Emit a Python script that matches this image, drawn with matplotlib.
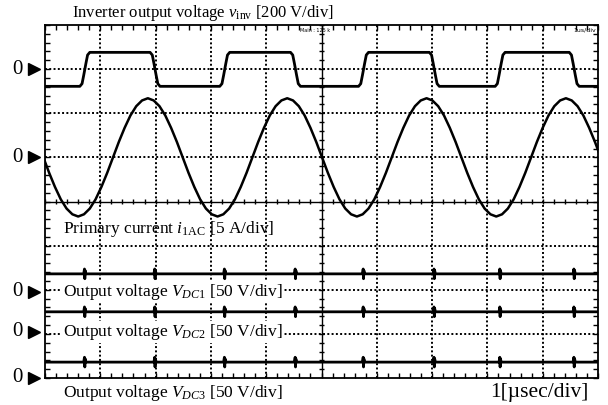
import numpy as np
import matplotlib
matplotlib.use("Agg")
import matplotlib.pyplot as plt
from matplotlib.ticker import MultipleLocator

plt.rcParams['font.family'] = ['Liberation Serif', 'DejaVu Serif']
plt.rcParams['mathtext.fontset'] = 'custom'
plt.rcParams['mathtext.rm'] = 'Liberation Serif'
plt.rcParams['mathtext.it'] = 'Liberation Serif:italic'

# screen is 10 x 8 divisions; all values below in divisions
# inverter voltage: switching instants and levels (zero at 7 div)
edge_t = [0.72, 1.99, 3.25, 4.53, 5.76, 7.04, 8.23, 9.57]
v_hi, v_lo = 0.38, -0.39
v_zero = 7.0

# primary current sampled every 0.105 div starting at t = -0.03 (zero at 5 div)
i_t0, i_dt = -0.03, 0.105
i_vals = [
    0, -0.35, -0.67, -0.95, -1.16, -1.29, -1.34, -1.29, -1.16, -0.95, -0.67, -0.35,
    0, 0.35, 0.67, 0.95, 1.16, 1.29, 1.34, 1.29, 1.16, 0.95, 0.67, 0.35,
    0, -0.35, -0.67, -0.95, -1.16, -1.29, -1.34, -1.29, -1.16, -0.95, -0.67, -0.35,
    0, 0.35, 0.67, 0.95, 1.16, 1.29, 1.34, 1.29, 1.16, 0.95, 0.67, 0.35,
    0, -0.35, -0.67, -0.95, -1.16, -1.29, -1.34, -1.29, -1.16, -0.95, -0.67, -0.35,
    0, 0.35, 0.67, 0.95, 1.16, 1.29, 1.34, 1.29, 1.16, 0.95, 0.67, 0.35,
    0, -0.35, -0.67, -0.95, -1.16, -1.29, -1.34, -1.29, -1.16, -0.95, -0.67, -0.35,
    0, 0.35, 0.67, 0.95, 1.16, 1.29, 1.34, 1.29, 1.16, 0.95, 0.67, 0.35,
    0,
]
i_zero = 5.0

# DC output voltages: zero markers and trace levels
dc_zero = [1.95, 1.05, 0.0]
dc_level = [2.36, 1.50, 0.36]
spike_amp = 0.11

fig = plt.figure(figsize=(6.08, 4.05), dpi=100)
ax = fig.add_axes([45/608, 27/405, 553/608, 353/405])
ax.set_xlim(0, 10)
ax.set_ylim(0, 8)

# grid
for x in range(1, 10):
    if x == 5:
        ax.axvline(x, color='k', lw=1.0)
    else:
        ax.axvline(x, color='k', lw=1.4, ls=(0, (1, 1.2)))
for y in range(1, 8):
    if y == 4:
        ax.axhline(y, color='k', lw=1.0)
    else:
        ax.axhline(y, color='k', lw=1.4, ls=(0, (1, 1.2)))
minor_x = np.arange(0, 10.01, 0.2)
minor_y = np.arange(0, 8.01, 0.2)
ax.vlines(minor_x, 4 - 0.06, 4 + 0.06, color='k', lw=1.0)
ax.hlines(minor_y, 5 - 0.05, 5 + 0.05, color='k', lw=1.0)

ax.xaxis.set_major_locator(MultipleLocator(1))
ax.yaxis.set_major_locator(MultipleLocator(1))
ax.xaxis.set_minor_locator(MultipleLocator(0.2))
ax.yaxis.set_minor_locator(MultipleLocator(0.2))
ax.tick_params(which='both', direction='in', top=True, right=True,
               labelbottom=False, labelleft=False, length=3.5, width=1.0)
for s in ax.spines.values():
    s.set_linewidth(1.3)

# inverter voltage
sq_t, sq_v = [0.0], [v_lo]
lvl = v_lo
for t in edge_t:
    new = v_hi if lvl == v_lo else v_lo
    d = 0.1 if new > lvl else -0.1
    sq_t += [t - 0.09, t - 0.05, t - 0.02, t + 0.02, t + 0.05, t + 0.09]
    sq_v += [lvl, lvl + d * 0.6, lvl + d * 2.5, new - d * 2.5, new - d * 0.6, new]
    lvl = new
sq_t.append(10.0)
sq_v.append(lvl)
ax.plot(sq_t, np.array(sq_v) + v_zero, color='k', lw=2.0)

# primary current
i_t = i_t0 + i_dt * np.arange(len(i_vals))
ax.plot(i_t, np.array(i_vals) + i_zero, color='k', lw=1.8)

# DC outputs with switching spikes
for lev in dc_level:
    tt, vv = [0.0], [lev]
    for t in edge_t:
        tt += [t - 0.02, t - 0.006, t, t + 0.006, t + 0.02]
        vv += [lev, lev + spike_amp, lev - spike_amp, lev + spike_amp * 0.7, lev]
    tt.append(10.0)
    vv.append(lev)
    ax.plot(tt, vv, color='k', lw=2.0)

# zero markers
for z in [v_zero, i_zero] + dc_zero:
    ax.plot(-0.2, z, marker='>', color='k', ms=9, clip_on=False)
    ax.text(-0.5, z, '0', ha='center', va='center', fontsize=15, clip_on=False)

# labels
fig.text(72/608, 1 - 13/405, r'Inverter output voltage $v_{\rm inv}$ [200 V/div]',
         fontsize=12, va='center', ha='left')
ax.text(0.32, (378 - 229) / 44.1, r'Primary current $i_{\rm 1AC}$ [5 A/div]',
        fontsize=12.5, va='center', ha='left')
for k, lab in enumerate([r'Output voltage $V_{DC1}$ [50 V/div]',
                         r'Output voltage $V_{DC2}$ [50 V/div]']):
    ax.text(0.32, dc_zero[k], lab, fontsize=12.5, va='center', ha='left',
            bbox=dict(boxstyle='square,pad=0.05', fc='white', ec='none'))
fig.text(63/608, 1 - 393/405, r'Output voltage $V_{DC3}$ [50 V/div]',
         fontsize=12.5, va='center', ha='left')
fig.text(490/608, 1 - 392/405, '1[\u00b5sec/div]', fontsize=15.5,
         va='center', ha='left')
fig.text(300/608, 1 - 30/405, 'Main : 125 k', fontsize=3.5, family='DejaVu Sans',
         va='center', ha='left')
fig.text(596/608, 1 - 30/405, '1us/div', fontsize=4.5, family='DejaVu Sans',
         va='center', ha='right')

fig.savefig('out.png', dpi=100)
